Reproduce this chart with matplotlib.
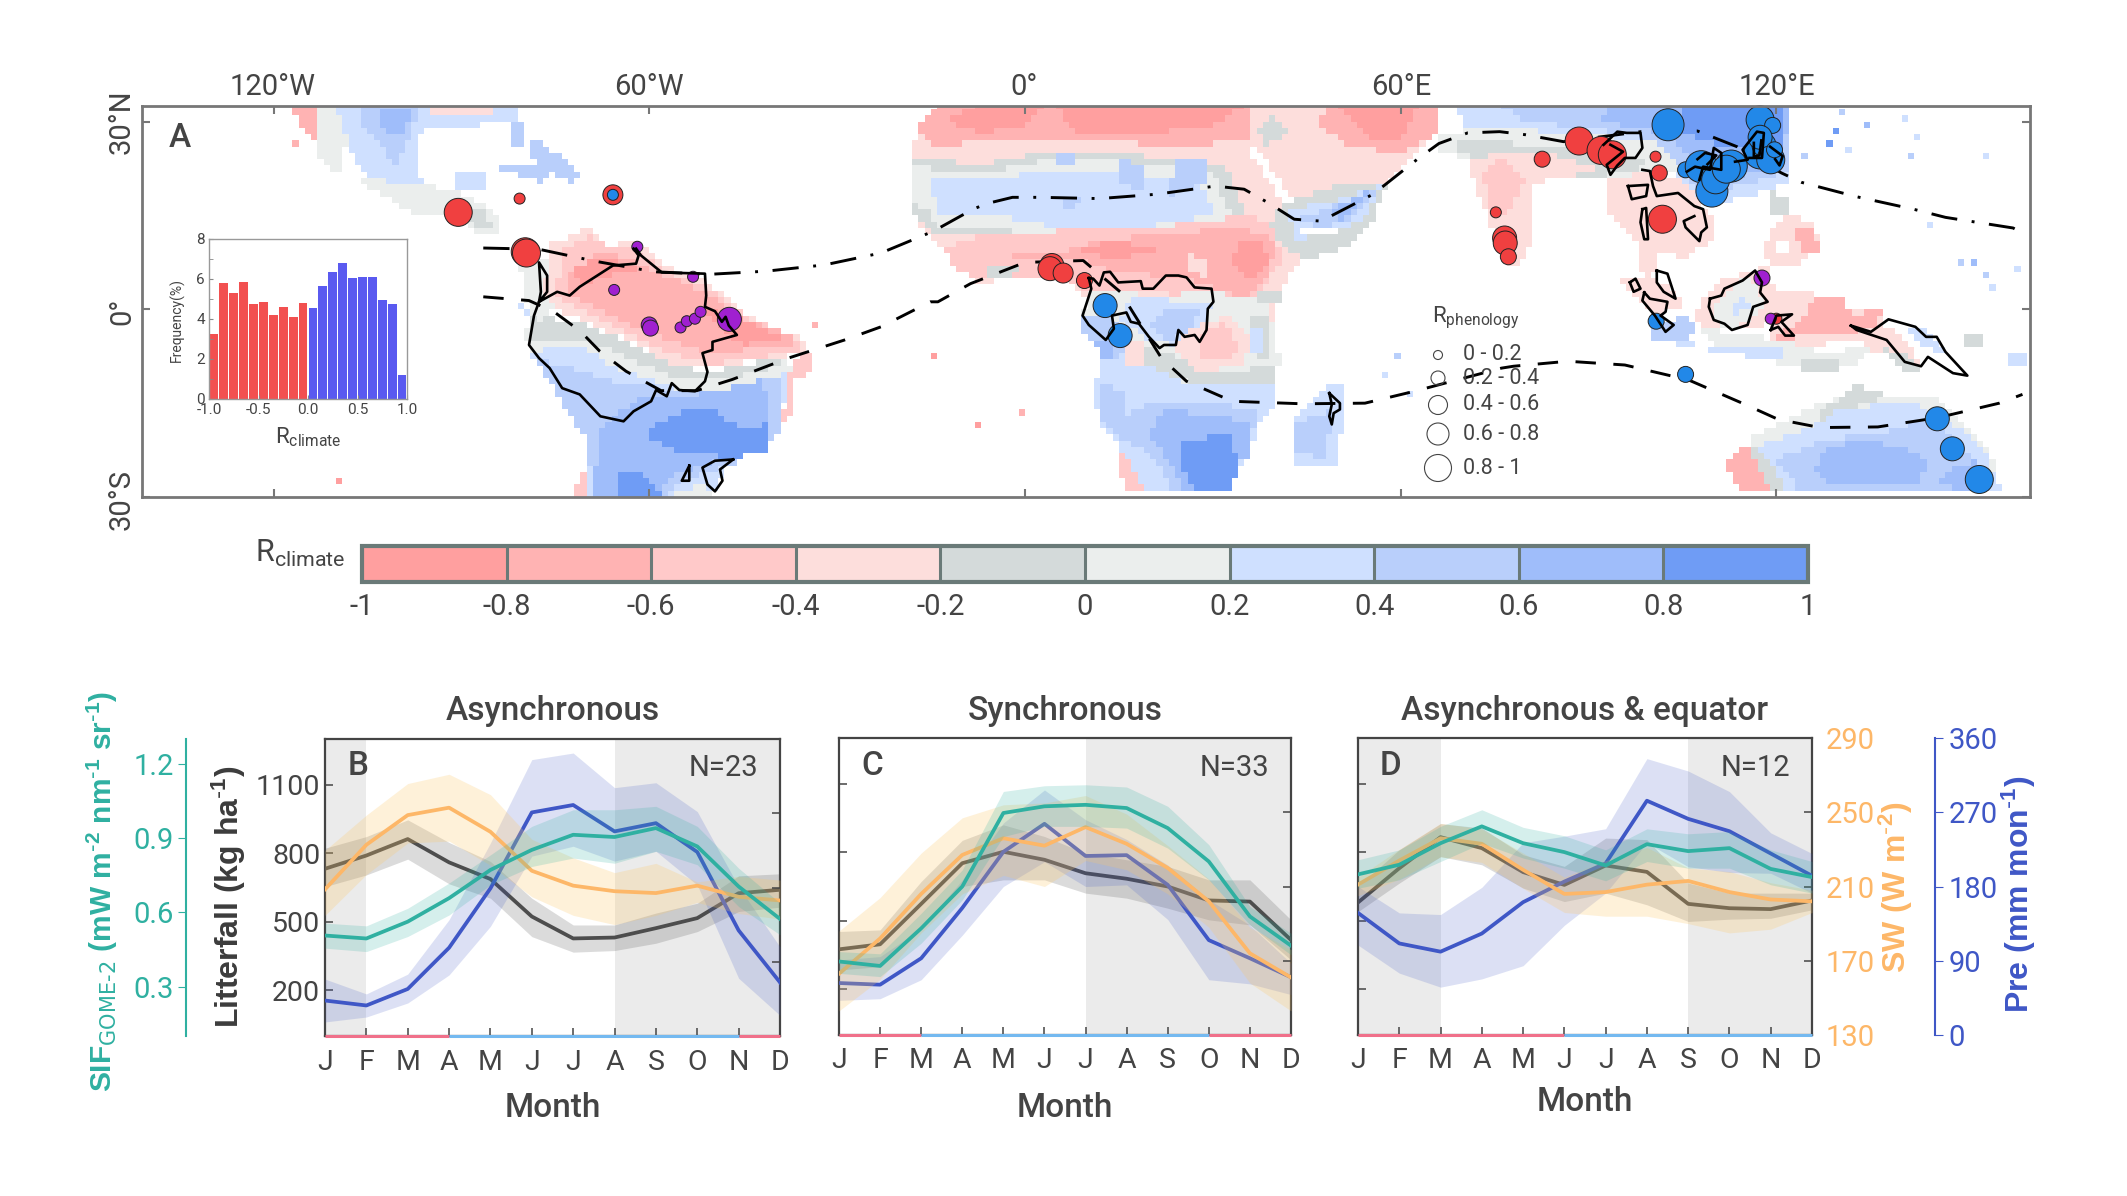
import numpy as np
import matplotlib
matplotlib.use("Agg")
import matplotlib.pyplot as plt
from matplotlib.colors import ListedColormap, BoundaryNorm
from matplotlib.path import Path

plt.rcParams["font.family"] = ["Roboto", "DejaVu Sans"]
plt.rcParams["mathtext.default"] = "regular"

W, H = 2127, 1196

MONTHS = ["J", "F", "M", "A", "M", "J", "J", "A", "S", "O", "N", "D"]

# panel B
B_LIT = [732, 790, 862, 760, 687, 523, 427, 431, 472, 516, 625, 640]
B_LIT_HI = [822, 873, 946, 847, 764, 603, 486, 486, 538, 581, 701, 710]
B_LIT_LO = [654, 705, 774, 666, 603, 435, 367, 374, 406, 457, 545, 564]
B_SW = [209, 233, 249, 253, 240, 219, 211, 208, 207, 211, 205, 203]
B_SW_HI = [230, 249, 266, 271, 260, 236, 226, 218, 223, 213, 216, 214]
B_SW_LO = [195, 217, 234, 235, 222, 205, 195, 190, 195, 202, 196, 193]
B_SIF = [.506, .494, .562, .657, .771, .852, .913, .904, .94, .866, .704, .573]
B_SIF_HI = [.556, .545, .616, .718, .832, .947, 1.014, 1.014, 1.028, .947, .778, .637]
B_SIF_LO = [.455, .441, .502, .589, .711, .785, .819, .798, .846, .792, .623, .509]
B_PRE = [43, 37, 57, 107, 179, 271, 280, 248, 258, 223, 128, 65]
B_PRE_HI = [69, 51, 75, 141, 234, 335, 343, 301, 307, 272, 181, 108]
B_PRE_LO = [17, 23, 40, 74, 133, 218, 230, 212, 224, 183, 70, 25]

# panel C
C_LIT = [375, 397, 574, 752, 802, 767, 708, 684, 650, 589, 584, 416]
C_LIT_HI = [453, 460, 672, 852, 920, 869, 796, 767, 738, 679, 679, 504]
C_LIT_LO = [285, 299, 482, 650, 679, 679, 621, 599, 555, 504, 482, 329]
C_SW = [163, 182, 206, 227, 236, 232, 242, 233, 220, 202, 174, 161]
C_SW_HI = [186, 204, 228, 247, 254, 255, 259, 249, 232, 214, 188, 176]
C_SW_LO = [143, 160, 185, 206, 216, 210, 224, 219, 206, 188, 158, 143]
C_SIF = [.397, .379, .531, .70, .997, 1.024, 1.03, 1.017, .936, .801, .579, .461]
C_SIF_HI = [.437, .428, .592, .767, 1.084, 1.107, 1.111, 1.102, 1.024, .869, .619, .511]
C_SIF_LO = [.349, .336, .471, .646, .902, .943, .943, .936, .855, .727, .545, .424]
C_PRE = [63, 61, 93, 154, 222, 256, 217, 218, 182, 115, 93, 70]
C_PRE_HI = [91, 95, 129, 188, 257, 297, 261, 237, 206, 164, 133, 87]
C_PRE_LO = [42, 44, 67, 121, 180, 210, 180, 182, 140, 67, 62, 49]

# panel D
D_LIT = [580, 730, 866, 818, 713, 657, 742, 714, 574, 555, 551, 589]
D_LIT_HI = [650, 811, 925, 906, 789, 738, 862, 855, 665, 621, 621, 621]
D_LIT_LO = [540, 665, 781, 745, 643, 584, 621, 570, 497, 507, 511, 548]
D_SW = [211, 224, 236, 233, 219, 206, 207, 211, 213, 207, 203, 202]
D_SW_HI = [215, 230, 244, 241, 228, 215, 224, 231, 220, 218, 212, 208]
D_SW_LO = [205, 214, 226, 223, 209, 196, 194, 194, 190, 185, 187, 196]
D_SIF = [.749, .788, .875, .943, .875, .839, .785, .871, .843, .855, .771, .738]
D_SIF_HI = [.808, .848, .943, 1.01, .939, .905, .848, .933, .913, .922, .848, .801]
D_SIF_LO = [.693, .727, .801, .875, .815, .774, .723, .801, .774, .774, .707, .673]
D_PRE = [148, 111, 101, 123, 161, 186, 208, 284, 262, 247, 220, 193]
D_PRE_HI = [180, 148, 146, 179, 233, 241, 250, 335, 320, 295, 245, 220]
D_PRE_LO = [109, 75, 58, 68, 84, 133, 172, 233, 204, 197, 196, 172]

# histogram inset
HIST_EDGES = np.arange(-1, 1.01, 0.1)
HIST_FREQ = [3.25, 5.8, 5.3, 5.85, 4.75, 4.85, 4.2, 4.6, 4.1, 4.8,
             4.55, 5.65, 6.35, 6.8, 6.05, 6.1, 6.1, 4.95, 4.75, 1.2]

R_LEVELS = [-1, -0.8, -0.6, -0.4, -0.2, 0, 0.2, 0.4, 0.6, 0.8, 1]
R_LABELS = ["-1", "-0.8", "-0.6", "-0.4", "-0.2", "0", "0.2", "0.4", "0.6", "0.8", "1"]
R_COLORS = ["#ff9f9f", "#ffb3b3", "#ffc9c9", "#fddedc", "#d4dada",
            "#ebeeed", "#cfe0ff", "#b9cffb", "#9fbdfa", "#6f9cf5"]

# R_climate class (0..9, -1 clears) per region, painted in this order, lon/lat
AMERICAS = [
    (1, [(-117, 32.5), (-112.5, 32.5), (-112.5, 26), (-116, 29)]),
    (5, [(-113.5, 32.5), (-107.7, 32.5), (-109, 22.3), (-110.5, 22.3), (-112.6, 24.4)]),
    (6, [(-110, 32.5), (-81, 32.5), (-81.6, 29.7), (-94.6, 29.2), (-96.7, 27.6), (-96.7, 20.7), (-92.2, 18.6), (-97.5, 17.5), (-104.4, 21), (-107, 24)]),
    (7, [(-106, 32.5), (-97, 32.5), (-98, 28.2), (-100.4, 22.9), (-103.6, 27), (-106, 29.7)]),
    (8, [(-103.6, 32), (-98, 32), (-98.7, 28.7), (-100.8, 27.6), (-102.8, 29.2)]),
    (3, [(-95, 32.5), (-85, 32.5), (-85, 31.5), (-95, 31)]),
    (7, [(-82.4, 29.7), (-80, 29.7), (-80, 26), (-82, 26)]),
    (7, [(-78.8, 27.1), (-76.7, 26.6), (-71, 21.3), (-72.7, 20.2), (-78.4, 22.9)]),
    (7, [(-84.5, 22.9), (-75.1, 22.9), (-76.7, 20.2), (-80.8, 21.3)]),
    (6, [(-90.6, 22), (-85.7, 22), (-85.7, 18.6), (-90.6, 18.6)]),
    (5, [(-106.5, 21.3), (-97, 19.7), (-90.6, 19.2), (-85.7, 16), (-83, 12.8), (-86.5, 11.8), (-92.2, 15.2), (-97.5, 15.2), (-104.4, 19.2)]),
    (4, [(-91, 17), (-86, 15.5), (-85, 13), (-88, 13.5)]),
    (6, [(-81, 1), (-78, -2), (-79, -7), (-73, -16), (-70, -18.5), (-70, -30), (-50, -30), (-47, -24), (-39, -19), (-38, -10), (-40, -8), (-51, -12), (-58, -10), (-69, -5), (-75, -2)]),
    (7, [(-78, -8), (-73.5, -9), (-65, -12), (-53, -13), (-42, -9.5), (-39, -11.5), (-39, -19.5), (-47, -25), (-56, -28), (-57, -30), (-69, -30), (-70, -21), (-74, -15)]),
    (8, [(-67, -18), (-61, -14), (-52, -13.5), (-42, -10.5), (-40.5, -18), (-46.5, -23.5), (-57, -27), (-59.5, -30), (-69, -30), (-68, -20)]),
    (9, [(-60.5, -19), (-54, -16), (-49, -16.5), (-45, -19.5), (-41, -18), (-41, -23), (-47, -23.7), (-55, -23), (-60, -20.5)]),
    (9, [(-65, -30), (-64.5, -26), (-61, -26), (-58, -30)]),
    (5, [(-56, -29), (-51, -28), (-49, -30), (-56, -30)]),
    (5, [(-80, -3), (-72, -3), (-64, -6), (-56, -10), (-49, -11), (-38, -8), (-37, -10), (-49, -13), (-56, -12.5), (-65, -9.5), (-72, -5.5), (-79, -7)]),
    (4, [(-79, -1), (-71, -2), (-64, -5), (-56, -9), (-50, -10), (-39, -7.5), (-38.5, -9), (-50, -11.5), (-56, -11), (-64, -7.5), (-71, -4.5), (-79, -5)]),
    (5, [(-81, 9), (-75, 8), (-74, 1), (-78, -2), (-80, 2)]),
    (3, [(-76, 10.5), (-69.5, 13), (-67, 10), (-62.5, 11), (-57, 7), (-51, 4.5), (-44, -1), (-36, -4.7), (-34, -7.5), (-38, -7.5), (-50, -9.2), (-56, -8.8), (-64, -4.7), (-71, -1.5), (-75, 0), (-77, 3), (-76, 8)]),
    (2, [(-73.5, 10), (-69, 11.7), (-66, 9.5), (-62, 9.5), (-57, 6), (-51, 3.8), (-44, -1.5), (-37, -4.2), (-35.5, -6.8), (-44, -7.8), (-50, -8.9), (-58, -6.5), (-69, -1), (-75, 2.2), (-74, 7)]),
    (1, [(-73.5, 5.5), (-69, 8.5), (-64.5, 8.5), (-58, 5.6), (-51, 2.7), (-45, -1.5), (-37, -4.2), (-36.5, -5.7), (-45, -6.5), (-51, -6.8), (-59, -4.2), (-69, 0.6), (-73.5, 2.7)]),
    (0, [(-72.5, 6.5), (-68.5, 8), (-64.5, 7.5), (-61, 6), (-65, 6), (-71, 3.8)]),
    (0, [(-51, 0), (-45, -1.5), (-38.5, -4.7), (-45, -5.7), (-50, -2)]),
    (2, [(-39, -19.5), (-37.5, -10), (-36, -7.3), (-33.5, -6.2), (-34, -9.5), (-36.5, -11.5), (-37, -17), (-38, -17)]),
    (2, [(-72, -30), (-71, -25), (-70, -26.5), (-70, -30)]),
]

AFRICA = [
    (3, [(-18, 26), (-16, 29), (-12, 32.5), (66, 32.5), (66, 28), (62, 24), (56, 19), (50, 14), (46, 12), (44, 8), (41, 3), (40, -2), (40, -6), (40, -9), (30, -9), (20, -8), (14, -3), (9, 3), (6, 5), (0, 5.5), (-7, 4), (-11, 7), (-13, 10), (-16.5, 13), (-18, 20)]),
    (1, [(-17, 29), (-14, 32.5), (44, 32.5), (44, 29), (35, 27), (25, 26), (10, 27), (0, 27), (-10, 26.5), (-15, 26)]),
    (1, [(48, 32.5), (66, 32.5), (66, 28), (60, 25), (52, 26), (47, 29)]),
    (0, [(-8, 32.5), (3, 32.5), (0, 29.5), (-7, 28), (-13, 30)]),
    (0, [(5, 32.5), (35, 32.5), (30, 29.5), (20, 28), (8, 28)]),
    (0, [(50, 32.5), (63, 32.5), (60, 27), (55, 27)]),
    (4, [(-18, 24.5), (-8, 23), (2, 25), (15, 25), (24, 24), (32, 23), (34, 18), (37, 13), (22, 9), (5, 9), (-4, 11.5), (-14, 11.5), (-18, 16)]),
    (5, [(-18, 23), (-8, 21.5), (2, 23.5), (15, 23.5), (30, 22), (32, 17), (34, 14), (20, 11), (5, 11), (-4, 13), (-14, 13), (-18, 17)]),
    (6, [(-15, 21), (-6, 20.5), (2, 22), (15, 22), (28, 20), (30, 16), (30, 15), (18, 13), (5, 13), (-4, 15), (-14, 15)]),
    (7, [(5, 25), (8.5, 25), (8.5, 22.5), (5, 22.5)]),
    (7, [(15, 24), (19, 23), (19, 19), (15, 20)]),
    (7, [(24, 24), (29, 24), (29, 20), (23, 18)]),
    (7, [(6, 18), (9, 18), (8, 16), (6, 16)]),
    (3, [(36, 32.5), (45, 32.5), (50, 25), (50, 22), (42, 18), (37, 22)]),
    (4, [(37, 29), (40, 31), (42, 28), (38, 26)]),
    (4, [(41, 17), (50, 20), (58, 20), (55, 13), (52, 10), (46, 8), (42, 9), (39, 13)]),
    (6, [(42, 16), (52, 18), (57, 20), (54, 14), (48, 12), (43, 11)]),
    (7, [(43, 14), (50, 17), (56, 19), (53, 15), (48, 13)]),
    (8, [(49, 16), (55, 19), (53, 16), (50, 14)]),
    (-1, [(44, 12.5), (50, 12.5), (50, 12), (44, 11.5)]),
    (-1, [(35.5, 26), (37, 26), (43, 17), (42, 16)]),
    (2, [(-13, 10), (-7, 12), (5, 12.5), (20, 13), (36, 15), (40, 13), (41, 8), (38, 3), (37, -2), (28, 0.5), (22, 3), (15, 3), (10, 3), (5, 5.5), (-8, 5), (-12, 7)]),
    (1, [(-5, 9), (5, 9), (10, 10.5), (20, 12), (35, 13), (40, 11), (39, 5), (35, 1), (32, 3), (25, 5), (15, 6), (8, 8), (0, 8)]),
    (0, [(8, 10), (15, 11), (20, 10), (22, 9), (13, 8)]),
    (0, [(34, 11), (38, 11), (39, 7), (36, 5), (33, 7)]),
    (3, [(26, 9), (29, 8), (29, 5), (26, 6)]),
    (4, [(-6, 7), (0, 7), (-2, 5), (-6, 5)]),
    (4, [(37, 3), (41, 3), (41, 0.5), (37, 0.5)]),
    (6, [(13, -3), (19, -8), (22, -10), (28, -12), (40, -12), (40, -15.5), (37, -18.5), (36, -24), (33, -26), (33, -29.5), (19, -29.5), (15, -22), (12, -19), (11, -13), (12, -8)]),
    (7, [(12, -12), (16, -13), (16, -17), (20, -15), (24, -15), (33, -15.5), (37, -16), (36, -23), (33, -26), (33, -29.5), (24, -29.5), (20, -23), (14, -20), (12, -18)]),
    (8, [(22, -16), (30, -17), (36, -18), (36, -24), (33, -25), (33, -29.5), (26, -29.5), (24, -26), (20, -20)]),
    (9, [(25, -21), (33, -20), (34, -25), (33, -29.5), (27, -29.5), (25, -25)]),
    (2, [(14.5, -23), (16, -23), (19, -29.5), (16, -29.5)]),
    (5, [(10, 3), (16, 3), (20, 2), (30, 3), (39, 1), (41, -9), (36, -12), (26, -12), (15, -6), (12, -4), (9, -3)]),
    (7, [(9, -1), (13, -1), (17, -4), (15, -8), (13, -8), (9, -4)]),
    (8, [(11, -5), (14, -5), (14, -8.5), (13, -8.5)]),
    (6, [(17, 2), (30, 1), (26, -6), (20, -5), (15, -2)]),
    (7, [(22, 0), (28, 0), (26, -4), (22, -5), (20, -2)]),
    (4, [(15, -8), (20, -6), (25, -8), (32, -10), (40, -9), (40, -12), (28, -12.5), (20, -9)]),
    (3, [(16, -5), (19, -5), (19, -9), (16, -9)]),
    (3, [(26, -3), (33, -1), (36, -5), (35, -9), (27, -10), (24, -6)]),
    (2, [(28, -4), (32, -2), (34, -6), (33, -8), (28, -8.5)]),
    (4, [(36, -1), (39, -1), (39, -8), (37, -8)]),
    (6, [(36, -3), (38, -3), (38, -7), (36, -7)]),
    (6, [(48, -12.5), (51, -12.5), (51, -17), (49.5, -25), (43, -25), (43, -17)]),
    (7, [(43, -18), (49, -16), (48, -24), (43, -23)]),
]

ASIA_PACIFIC = [
    (6, [(69, 32.5), (122, 32.5), (122, 20), (110, 16.5), (105, 20), (100, 25), (90, 28), (80, 28), (70, 29)]),
    (7, [(76, 32.5), (122, 32.5), (122, 22), (108, 18), (105, 22), (100, 27), (90, 29), (80, 30)]),
    (8, [(93, 32.5), (122, 32.5), (121, 23), (110, 20), (105, 25), (102, 28), (92, 30)]),
    (9, [(105, 32.5), (121, 32.5), (121, 25), (112, 26), (105, 28)]),
    (5, [(66, 28), (66, 25), (72, 24), (82, 23), (92, 21), (105, 22), (100, 27), (88, 28), (75, 29)]),
    (4, [(68, 26), (72, 24), (80, 22), (90, 21), (96, 22), (100, 23), (95, 25), (85, 26), (70, 27)]),
    (3, [(70.5, 24), (72, 19), (74, 15), (76, 9), (78, 6.5), (80, 8), (81, 13), (80.5, 19), (84, 21), (92, 22), (85, 24.5), (78, 25)]),
    (2, [(73, 22), (76, 24), (80, 21), (78, 17), (76, 14), (74, 17)]),
    (3, [(93, 21), (100, 22), (104, 21), (107, 19), (110, 14), (109.5, 11), (105, 8), (103, 9), (99, 9), (98, 11), (93, 15)]),
    (3, [(98.5, 10), (100.5, 9), (101, 6), (100, 5), (98, 6)]),
    (2, [(92.5, 8), (93.5, 8), (93.5, 6), (92.5, 6)]),
    (3, [(95, 5), (100, 5), (103, 4), (104.5, 2), (105, 0), (100, -1), (97, 2)]),
    (4, [(119, 19), (122, 18), (122, 15), (119, 15)]),
    (3, [(120, 14), (122, 15), (126, 14), (127, 10), (125, 8), (121, 6.5), (118, 8), (118, 10)]),
    (1, [(123, 13), (126, 13), (127, 9), (124, 9)]),
    (-1, [(120, 11), (122.5, 11), (122, 9), (120, 9)]),
    (3, [(112, 5), (119, 7), (120, 1), (118, -3), (109, -3), (107, -2), (108, 2)]),
    (5, [(109.5, 0), (112, 3), (115, 5), (117, 4), (118, 1), (116, -2), (112, -3), (110, -2)]),
    (6, [(113, 1), (115, 2), (116, 0), (113, -1)]),
    (3, [(119, 3), (126, 3), (128, 0), (137, 0), (137, -4), (125, -6), (119, -6)]),
    (1, [(120, -4), (124, -2), (126, 2), (131, 2), (132, -1), (135, 0), (137, 0), (136, -3), (131, -4), (124, -4), (122, -6), (120, -6)]),
    (5, [(108, -3), (122, -5), (127, -7), (135, -6), (133, -9), (122, -9), (110, -6)]),
    (6, [(102, -5), (112, -6), (118, -6), (124, -7), (118, -8), (106, -6)]),
    (7, [(100, -3), (105, -1), (108, -3), (105, -5), (100, -5)]),
    (4, [(124, -8), (130, -8), (130, -10), (124, -10)]),
    (3, [(138, -3), (142, -6), (143, -9), (136, -7), (132, -4)]),
    (6, [(140, -3), (143, -3), (147, -6), (147, -7), (143, -6)]),
    (4, [(137, -6), (142, -8), (144, -10), (140, -10)]),
    (4, [(150, -4), (153, -4), (153, -6), (150, -6)]),
    (5, [(116, -20.5), (125, -16), (130, -14), (135, -13), (140, -14), (145, -14), (150, -18), (154, -22), (156, -29.5), (116, -29.5)]),
    (4, [(127, -16.5), (133, -12), (138, -14), (134, -15), (127, -18)]),
    (6, [(117, -22), (125, -19), (130, -16), (139, -15), (143, -15.5), (146, -18), (150, -19), (153, -22), (155, -27), (156, -29.5), (120, -29.5)]),
    (7, [(120, -24), (127, -21), (138, -19.5), (143, -18), (147, -19), (152, -24), (155, -29.5), (124, -29.5)]),
    (8, [(126, -26), (128, -22), (134, -21), (140, -22), (144, -24), (143, -28), (128, -28)]),
    (8, [(147, -26), (152, -24), (154, -28), (151, -29.5), (146, -28)]),
    (1, [(112, -25), (114, -22), (116, -21.5), (118, -26), (120, -29.5), (114, -29.5)]),
    (4, [(116, -21), (120, -26), (122, -29.5), (119.5, -29.5), (116, -23)]),
    (6, [(157, -7), (160, -7), (160, -9), (157, -9)]),
]

# lone grid cells: lon, lat, class
LONE_CELLS = [(130.5, 31.3, 7), (135, 29.2, 8), (140.5, 30.5, 6), (129.4, 28.6, 9), (128.2, 26.6, 9),
              (131.7, 25.6, 6), (124.5, 24.6, 7), (141.6, 24.6, 7), (153.9, 24.6, 6), (142.5, 27.6, 6),
              (144.5, 13.6, 6), (149.9, 7.6, 7), (151.6, 7.6, 8), (158.4, 7, 6), (153.6, 5.7, 7),
              (155, 3.6, 6), (60, -7, 7), (58, -10, 6), (62, -13, 6), (-116, 27, 1), (-109, -27, 0),
              (-33, -2, 1), (-14, -7, 0), (-7, -18, 0), (0, -16, 1), (-16, 17, 5), (-15, 16, 4)]

NORTH_LON = [-86.5, -77.6, -68.7, -59.2, -50.3, -41.3, -32, -23, -16.5, -14.6, -8.3, -6.1, -2, 2.6, 11.9, 21.1, 30.4, 35, 38.9, 43, 47.3, 55.6, 62.8, 66.1, 70.7, 75.8, 80, 86, 98.4, 107.4, 113.7, 120.8, 124, 132.8, 141.9, 147, 157.8, 159.7]
NORTH_LAT = [9.8, 9.6, 7.7, 6, 5.6, 6.1, 7.1, 9, 11.7, 12.5, 16, 16.9, 17.9, 17.9, 17.7, 18.4, 19.7, 19.2, 17, 14.4, 14.1, 18.4, 24.1, 26.5, 28.2, 28.4, 27.9, 26.8, 28.4, 28.5, 26, 21.8, 20.3, 18, 16, 14.7, 13, 12]
SOUTH_LON = [-86.5, -79.2, -75.2, -71, -67.9, -63.7, -58.1, -52.4, -46.7, -37.8, -28.8, -23, -15.1, -13.9, -8.7, 0, 9.3, 15.2, 21.8, 25.8, 33.1, 44.3, 54.3, 62.2, 68.2, 76.1, 78, 86.7, 95.8, 106, 115, 120.3, 127, 136.2, 145.9, 155.6, 159.3]
SOUTH_LAT = [2, 1.4, -0.4, -3.5, -6.7, -9.9, -13, -13, -11.2, -7.8, -4.9, -2.8, 1.2, 1.2, 4.1, 7.5, 7.8, 2.8, -7.8, -11.5, -14.7, -15.1, -15, -13.1, -11.5, -9.4, -9.1, -8.3, -8.9, -11.3, -15.2, -17.6, -18.9, -18.8, -17.3, -15, -13.6]

OUTLINES = [
    [(-62.1, 9.7), (-61.3, 8.6), (-58, 5.9), (-51.1, 5.7), (-50.9, 2.2), (-51.1, 0.4), (-49.5, -0.3), (-48.4, -2), (-47.8, -1.2), (-47.3, -2.6), (-46, -4.1), (-49.9, -5.2), (-49.9, -6.5), (-51.5, -7), (-50.7, -10), (-51.1, -11.5), (-52.7, -13.1), (-55.2, -12.9), (-56.4, -11.8), (-57.2, -13.9), (-58.9, -12.9), (-59.7, -14.7), (-62.5, -16.3), (-64.1, -17.9), (-67.8, -17.1), (-71.1, -13.6), (-73.9, -12.6), (-75.9, -9.4), (-77.6, -7.8), (-79.2, -5.7), (-78.4, -1), (-77.6, 1.2), (-76.3, 2.8), (-76.3, 5.4), (-77.6, 7.5), (-77.3, 2.8), (-77.6, 1.2), (-74.7, 2.8), (-72.7, 2.2), (-71.1, 3.6), (-65.8, 7), (-62.1, 7.3), (-61.7, 8.6), (-62.5, 9.7)],
    [(-46.6, -24), (-49.5, -24.2), (-51.5, -25.3), (-50.7, -28), (-49.5, -29.1), (-48.3, -27.4), (-48.7, -25.6), (-46.6, -24)],
    [(-53.6, -25), (-54.8, -27.4), (-53.6, -27.4), (-53.6, -25)],
    [(10.2, 5), (10.6, 3.3), (9.2, -1), (10.2, -2.5), (12.9, -4.9), (14.2, -3.1), (13.9, -1), (16.2, -0.5), (16.9, -2), (18.2, -2.3), (19.8, -4.4), (21.5, -6.2), (22.2, -5.7), (24.1, -5.7), (24.5, -3.3), (25.5, -4.4), (27.1, -4.1), (27.9, -5.2), (29, -3.3), (29.2, 0.1), (30.1, 1.2), (29.8, 3.3), (27.1, 3.5), (25.8, 5.1), (24.5, 5.4), (22.5, 5.4), (20.5, 3.3), (18.8, 3.3), (18.5, 4.5), (14.9, 4.3), (13.6, 6), (12.6, 5.9), (11.9, 3.8), (10.9, 4.9), (10.2, 5)],
    [(48.6, -13.4), (50.3, -15), (50.3, -16), (49.3, -16.6), (49, -18.4), (48.6, -17.1), (49, -15.2), (48.6, -13.4)],
    [(109.4, 1.7), (111.2, 2.2), (111.7, 3.3), (114.6, 4.6), (116.6, 6.2), (117.7, 4.3), (117.4, 2.7), (118.6, 1.2), (116.3, 0.4), (115.4, -2.5), (112.9, -3.3), (111.7, -2.3), (110, -1.7), (109.2, 0.4), (109.4, 1.7)],
    [(119.1, -3.3), (120, -1), (122.5, -0.8), (120.8, -2), (122.8, -4.2), (121.4, -4.2), (120.3, -2.8), (119.1, -3.3)],
    [(131.9, -2.6), (135.1, -3.6), (137.9, -1.6), (142.2, -2.8), (143.9, -4.4), (145.6, -4.4), (147, -6.8), (150.5, -10.6), (148.2, -10.2), (144.2, -7.6), (143.1, -9.1), (140.5, -8.4), (137.6, -4.9), (132.8, -3.3), (131.9, -2.6)],
    [(96.6, 4.3), (97.5, 4.9), (98.3, 3.3), (97.2, 2.8), (96.6, 4.3)],
    [(100.9, 6.2), (102.6, 5.7), (103.9, 1.7), (102, 2.8), (100.9, 4.3), (100.9, 6.2)],
    [(98.9, 2.7), (99.8, 1.7), (102.6, 1.2), (102.3, -0.4), (101.5, -1), (103.6, -2.5), (102.3, -3.6), (100.6, -1), (98.6, 1.4), (98.9, 2.7)],
    [(98.6, 22.3), (99.8, 22.1), (100.3, 19.7), (100.9, 18.1), (104.3, 18.6), (106.9, 16.5), (108.3, 16), (108.9, 13.1), (108, 12.3), (107.7, 10.9), (105.5, 13.1), (105.2, 14.1), (106.9, 14.9)],
    [(96.3, 19.7), (99.5, 19.9), (99.2, 18.1), (96.9, 17.6), (96.3, 19.7)],
    [(98.6, 16), (99.2, 16.2), (99.5, 11.2), (98.9, 11.2), (98.3, 13.9), (98.6, 16)],
    [(92.4, 26.3), (94.6, 28.4), (96.1, 28.2), (98.3, 28.2), (98.6, 25.8), (97.5, 24.2), (95.8, 24.2), (94.6, 23), (93.5, 21.5), (92.9, 23.1), (95.5, 25.2), (93.5, 26.3)],
    [(105.7, 22), (107, 22.8), (109.4, 22.3), (110, 25.8), (111.2, 25), (111.2, 22.3), (108.3, 22.8), (107.7, 20.7)],
    [(113.4, 23.6), (115.4, 23.9), (114.6, 25.5), (116.9, 28.4), (118, 28.2), (117.7, 24.2), (115.7, 24.2)],
    [(116.4, 26.6), (116.4, 24.4), (117.3, 24.6), (117.6, 27)],
    [(119, 26), (121, 24.5), (120.5, 23), (119.8, 24)],
    [(107.4, 24), (108.6, 25), (110.4, 24.6), (109, 23.2)],
]

# phenology sites: lon, lat, size class
RED_SITES = [(-90.5, 15.5, 4), (-80.7, 17.7, 0), (-65.8, 18.3, 2), (-79.8, 9.2, 4), (-79.6, 9, 4),
             (4.3, 7, 3), (4, 6.5, 3), (6.1, 5.8, 2), (9.5, 4.6, 1), (75.2, 15.5, 0), (76.6, 11.4, 3),
             (76.7, 10.6, 3), (77.2, 8.4, 1), (82.6, 24, 1), (88.5, 26.9, 4), (92, 25.4, 4),
             (93.8, 24.7, 4), (100.7, 24.4, 0), (101.3, 21.8, 1), (101.8, 14.4, 4), (120, -1.5, 0)]
BLUE_SITES = [(-65.8, 18.3, 0), (12.8, 0.6, 3), (15.2, -4.2, 3), (102.7, 29.5, 5), (117.4, 30.3, 4),
              (119.4, 29.4, 1), (105.5, 22.3, 1), (108, 22.8, 5), (109.7, 18.9, 5), (110.3, 20.7, 4),
              (112.8, 22.9, 5), (112, 22.4, 4), (117.4, 25, 5), (118, 26.3, 3), (117.4, 27.5, 3),
              (119.1, 23.9, 4), (119.7, 25.5, 1), (105.5, -10.4, 1), (145.7, -17.5, 3),
              (148.1, -22.3, 3), (152.4, -27.2, 4), (100.8, -1.9, 1)]
PURPLE_SITES = [(-61.9, 10, 0), (-53, 5.2, 0), (-65.6, 3.1, 0), (-60, -2.5, 1), (-59.8, -3, 1), (-55, -2.9, 0),
                (-54, -1.9, 0), (-52.7, -1.5, 0), (-51.8, -0.4, 0), (-47.2, -1.6, 3), (117.7, 5, 1), (119.1, -1.5, 0)]

PHENO_LABELS = ["0 - 0.2", "0.2 - 0.4", "0.4 - 0.6", "0.6 - 0.8", "0.8 - 1"]
PHENO_DIAM = [11, 16, 20, 24, 28, 32]

PANELS = [
    dict(box=(325, 739, 780, 1036), letter="B", n="N=23", title="Asynchronous", shade=[(0, 1), (7, 11)],
         season=[(0, 3, "d"), (3, 10, "w"), (10, 11, "d")],
         lit=(B_LIT, B_LIT_LO, B_LIT_HI), sw=(B_SW, B_SW_LO, B_SW_HI), sif=(B_SIF, B_SIF_LO, B_SIF_HI), pre=(B_PRE, B_PRE_LO, B_PRE_HI)),
    dict(box=(839, 738, 1291, 1035), letter="C", n="N=33", title="Synchronous", shade=[(6, 11)],
         season=[(0, 2, "d"), (2, 9, "w"), (9, 11, "d")],
         lit=(C_LIT, C_LIT_LO, C_LIT_HI), sw=(C_SW, C_SW_LO, C_SW_HI), sif=(C_SIF, C_SIF_LO, C_SIF_HI), pre=(C_PRE, C_PRE_LO, C_PRE_HI)),
    dict(box=(1358, 738, 1812, 1035), letter="D", n="N=12", title="Asynchronous & equator", shade=[(0, 2), (8, 11)],
         season=[(0, 5, "d"), (5, 11, "w")],
         lit=(D_LIT, D_LIT_LO, D_LIT_HI), sw=(D_SW, D_SW_LO, D_SW_HI), sif=(D_SIF, D_SIF_LO, D_SIF_HI), pre=(D_PRE, D_PRE_LO, D_PRE_HI)),
]

DARK = "#444444"
TEAL = "#2fb0a1"
ORANGE = "#fdb768"
BLUE = "#3f57c6"
GREY = "#4d4d4d"


def axpx(left, top, right, bottom, **kw):
    return fig.add_axes([left / W, 1 - bottom / H, (right - left) / W, (bottom - top) / H], **kw)


fig = plt.figure(figsize=(W / 100, H / 100), dpi=100, facecolor="white")

# map field, rasterised on a 1 degree grid
lons = np.arange(-141, 161.5, 1.0)
lats = np.arange(-30, 33.5, 1.0)
lon_c, lat_c = np.meshgrid((lons[:-1] + lons[1:]) / 2, (lats[:-1] + lats[1:]) / 2)
pts = np.column_stack([lon_c.ravel(), lat_c.ravel()])
classes = np.full(lon_c.shape, np.nan)
for cls, poly in AMERICAS + AFRICA + ASIA_PACIFIC:
    mask = Path(poly + [poly[0]]).contains_points(pts).reshape(lon_c.shape)
    classes[mask] = np.nan if cls < 0 else cls
for lo, la, cls in LONE_CELLS:
    classes[np.searchsorted(lats, la) - 1, np.searchsorted(lons, lo) - 1] = cls
field = -0.9 + 0.2 * classes

cmap = ListedColormap(R_COLORS)
norm = BoundaryNorm(R_LEVELS, cmap.N)

ax = axpx(142, 106, 2030, 497)
mesh = ax.pcolormesh(lons, lats, field, cmap=cmap, norm=norm, zorder=1)
ax.set_xlim(-141, 160.5)
ax.set_ylim(-29.5, 32.5)
for s in ax.spines.values():
    s.set_color("#777777")
    s.set_linewidth(2)
    s.set_zorder(10)
ax.set_xticks([-120, -60, 0, 60, 120])
ax.set_xticklabels(["120°W", "60°W", "0°", "60°E", "120°E"])
ax.set_yticks([30, 0, -30])
ax.tick_params(axis="both", direction="in", length=6, color="#777777", width=1.5, top=True, right=True,
               labelbottom=False, labeltop=False, labelleft=False)

for poly in OUTLINES:
    xy = np.array(poly)
    ax.plot(xy[:, 0], xy[:, 1], color="black", lw=1.9, zorder=8, solid_joinstyle="round")
ax.plot(NORTH_LON, NORTH_LAT, color="black", lw=2.1, ls=(0, (9, 5, 1, 5)), zorder=4)
ax.plot(SOUTH_LON, SOUTH_LAT, color="black", lw=2.1, ls=(0, (7, 6)), zorder=4)


def sites(rows, color, z):
    r = np.array(rows)
    size = [(PHENO_DIAM[int(c)] * 0.72) ** 2 for c in r[:, 2]]
    ax.scatter(r[:, 0], r[:, 1], s=size, c=color, edgecolors="#222222", linewidths=0.7, zorder=z, clip_on=False)


sites(RED_SITES, "#f04040", 6)
sites(BLUE_SITES, "#2288e8", 7)
sites(PURPLE_SITES, "#a020d0", 6)

# overlay in pixels for all the loose text
ov = fig.add_axes([0, 0, 1, 1], zorder=20)
ov.set_xlim(0, W)
ov.set_ylim(H, 0)
ov.axis("off")


def label(x, y, s, size=18, color=DARK, ha="center", va="center", **kw):
    ov.text(x, y, s, fontsize=size, color=color, ha=ha, va=va, **kw)


label(180, 138, "A", 24, weight="medium")
for x, s in zip([273, 649, 1024, 1401, 1777], ["120°W", "60°W", "0°", "60°E", "120°E"]):
    label(x, 87, s, 21)
for y, s in zip([122, 311, 499], ["30°N", "0°", "30°S"]):
    label(122, y, s, 21, rotation=90)

label(1432, 318, "R$_{phenology}$", 16, ha="left")
for y, s, d in zip([355, 378, 405, 434, 468], PHENO_LABELS, [9, 14, 19, 22, 27]):
    ov.scatter([1438], [y], s=(d * 0.72) ** 2, facecolors="none", edgecolors=DARK, linewidths=0.8)
    label(1463, y, s, 15.5, ha="left")

# colourbar
cax = axpx(362, 546, 1808, 582)
cb = fig.colorbar(mesh, cax=cax, orientation="horizontal", drawedges=True, ticks=R_LEVELS)
cb.ax.set_xticklabels(R_LABELS)
cb.ax.tick_params(length=0, labelsize=21, labelcolor=DARK, pad=8)
cb.outline.set_edgecolor("#6a7a78")
cb.outline.set_linewidth(3)
cb.dividers.set_color("#6a7a78")
cb.dividers.set_linewidth(2.2)
label(346, 553, "R$_{climate}$", 22, ha="right")

# inset histogram
ins = axpx(209, 239, 407, 399)
ins.patch.set_alpha(0)
centers = (HIST_EDGES[:-1] + HIST_EDGES[1:]) / 2
ins.bar(centers, HIST_FREQ, width=0.088, color=["#f25050" if c < 0 else "#5a5af0" for c in centers])
ins.set_xlim(-1, 1)
ins.set_ylim(0, 8)
ins.set_xticks([-1, -0.5, 0, 0.5, 1])
ins.set_xticklabels(["-1.0", "-0.5", "0.0", "0.5", "1.0"])
ins.set_yticks([0, 2, 4, 6, 8])
ins.set_yticks([1, 3, 5, 7], minor=True)
ins.tick_params(which="both", direction="in", length=3, labelsize=11, labelcolor=DARK, color="#888888", pad=3)
for s in ins.spines.values():
    s.set_color("#999999")
    s.set_linewidth(1)
label(177, 320, "Frequency(%)", 10, rotation=90)
label(308, 437, "R$_{climate}$", 16)

# bottom panels
season_col = {"d": "#f0708a", "w": "#74b9f0"}
x = np.arange(12)
for i, p in enumerate(PANELS):
    a = axpx(*p["box"])
    for s0, s1 in p["shade"]:
        a.axvspan(s0, s1, color="#ebebeb", lw=0, zorder=0)
    a.set_xlim(0, 11)
    a.set_xticks(x)
    a.set_xticklabels(MONTHS)
    a.set_ylim(0, 1300)
    a.set_yticks([200, 500, 800, 1100])
    a.tick_params(direction="in", length=6, color=DARK, labelsize=20.5, labelcolor=DARK, width=1.1)
    a.tick_params(axis="x", pad=9)
    if i != 0:
        a.set_yticklabels([])
    for s in a.spines.values():
        s.set_color(DARK)
        s.set_linewidth(1.6)

    pre_ax = a.twinx()
    pre_ax.set_ylim(0, 360)
    pre_ax.set_yticks([])
    sw_ax = a.twinx()
    sw_ax.set_ylim(130, 290)
    sw_ax.set_yticks([130, 170, 210, 250, 290])
    sw_ax.tick_params(direction="in", length=6, color=DARK, labelsize=21, labelcolor=ORANGE, width=1.1, pad=10)
    if i != 2:
        sw_ax.set_yticklabels([])
    sif_ax = a.twinx()
    sif_ax.set_ylim(0.1, 1.3)
    sif_ax.set_yticks([])
    for twin in (pre_ax, sw_ax, sif_ax):
        for s in twin.spines.values():
            s.set_visible(False)

    for target, key, col, alpha in [(a, "lit", GREY, 0.2), (pre_ax, "pre", BLUE, 0.18),
                                    (sw_ax, "sw", "#fdc868", 0.25), (sif_ax, "sif", TEAL, 0.2)]:
        mean, lo, hi = p[key]
        target.fill_between(x, lo, hi, color=col, alpha=alpha, lw=0)
    for target, key, col in [(a, "lit", GREY), (pre_ax, "pre", BLUE), (sw_ax, "sw", ORANGE), (sif_ax, "sif", TEAL)]:
        target.plot(x, p[key][0], color=col, lw=2.7, zorder=4)

    for s0, s1, kind in p["season"]:
        sif_ax.plot([s0, s1], [0.1, 0.1], color=season_col[kind], lw=2.2, clip_on=False, zorder=9, solid_capstyle="butt")

    cx = (p["box"][0] + p["box"][2]) / 2
    label(cx, 711, p["title"], 24, weight="medium")
    label(cx, 1108 if i < 2 else 1102, "Month", 24, weight="medium")
    label(p["box"][0] + 33, 766, p["letter"], 24, weight="medium")
    label(p["box"][2] - 57, 768, p["n"], 21)

# outer axes for SIF and precipitation
sif_spine = axpx(186, 739, 187, 1036)
sif_spine.patch.set_alpha(0)
sif_spine.set_ylim(0.1, 1.3)
sif_spine.set_yticks([0.3, 0.6, 0.9, 1.2])
sif_spine.set_xticks([])
sif_spine.tick_params(axis="y", length=6, color=TEAL, labelsize=21, labelcolor=TEAL, pad=3)
for n, s in sif_spine.spines.items():
    s.set_visible(n == "left")
    s.set_color(TEAL)
    s.set_linewidth(1.5)

pre_spine = axpx(1935, 738, 1936, 1035)
pre_spine.patch.set_alpha(0)
pre_spine.set_ylim(0, 360)
pre_spine.set_yticks([0, 90, 180, 270, 360])
pre_spine.set_xticks([])
pre_spine.tick_params(axis="y", direction="in", length=6, color=BLUE, labelsize=21, labelcolor=BLUE,
                      left=True, right=False, labelleft=False, labelright=True, pad=9)
for n, s in pre_spine.spines.items():
    s.set_visible(n == "left")
    s.set_color(BLUE)
    s.set_linewidth(1.5)

bold = dict(family="Liberation Sans", weight="bold", rotation=90)
label(102, 891, r"SIF$_{\text{GOME-2}}$ (mW m$^{\text{-}2}$ nm$^{\text{-}1}$ sr$^{\text{-}1}$)", 21.5, color=TEAL, **bold)
label(229, 897, r"Litterfall (kg ha$^{\text{-}1}$)", 23, color="#3c3c3c", **bold)
label(1896, 887, r"SW (W m$^{\text{-}2}$)", 23, color=ORANGE, **bold)
label(2019, 894, r"Pre (mm mon$^{\text{-}1}$)", 23, color=BLUE, **bold)

fig.savefig("out.png", dpi=100, facecolor="white")
